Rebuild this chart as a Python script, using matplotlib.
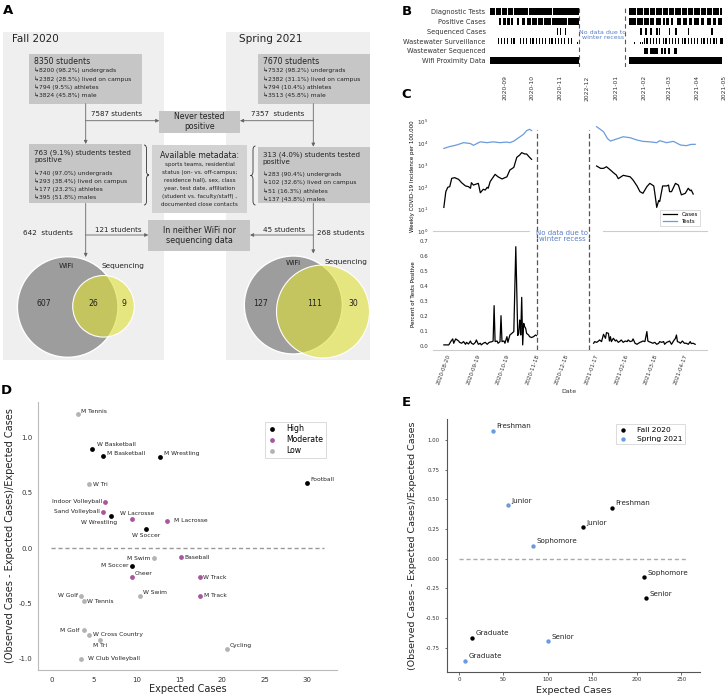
import numpy as np
import pandas as pd
import matplotlib
matplotlib.use('Agg')
import matplotlib.pyplot as plt
import matplotlib.dates as mdates
from matplotlib.patches import Rectangle, Circle, PathPatch
from matplotlib.path import Path

# ---------------- data ----------------
# panel A
fall_counts = ["8350 students", "↳8200 (98.2%) undergrads", "↳2382 (28.5%) lived on campus",
               "↳794 (9.5%) athletes", "↳3824 (45.8%) male"]
spring_counts = ["7670 students", "↳7532 (98.2%) undergrads", "↳2382 (31.1%) lived on campus",
                 "↳794 (10.4%) athletes", "↳3513 (45.8%) male"]
fall_pos = ["763 (9.1%) students tested\npositive", "↳740 (97.0%) undergrads",
            "↳293 (38.4%) lived on campus", "↳177 (23.2%) athletes", "↳395 (51.8%) males"]
spring_pos = ["313 (4.0%) students tested\npositive", "↳283 (90.4%) undergrads",
              "↳102 (32.6%) lived on campus", "↳51 (16.3%) athletes", "↳137 (43.8%) males"]
metadata_lines = ["sports teams, residential", "status (on- vs. off-campus;", "residence hall), sex, class",
                  "year, test date, affiliation", "(student vs. faculty/staff) ,", "documented close contacts"]
never_pos = [7587, 7357]
neither = [121, 45]
venn_total = [642, 268]
venn_fall = [607, 26, 9]      # wifi only, both, sequencing only
venn_spring = [127, 111, 30]

# panel B
b_rows = ["Diagnostic Tests", "Positive Cases", "Sequenced Cases", "Wastewater Surveillance",
          "Wastewater Sequenced", "Wifi Proximity Data"]
diag_tests = [("2020-08-15", "2020-08-20"), ("2020-08-22", "2020-08-27"), ("2020-08-29", "2020-09-02"),
              ("2020-09-04", "2020-09-09"), ("2020-09-11", "2020-09-25"), ("2020-09-27", "2020-10-22"),
              ("2020-10-24", "2020-11-21"),
              ("2021-01-16", "2021-01-23"), ("2021-01-25", "2021-01-30"), ("2021-02-01", "2021-02-06"),
              ("2021-02-08", "2021-02-13"), ("2021-02-15", "2021-02-20"), ("2021-02-22", "2021-02-27"),
              ("2021-03-01", "2021-03-06"), ("2021-03-08", "2021-03-13"), ("2021-03-15", "2021-03-20"),
              ("2021-03-22", "2021-03-27"), ("2021-03-29", "2021-04-03"), ("2021-04-05", "2021-04-10"),
              ("2021-04-12", "2021-04-17"), ("2021-04-19", "2021-04-24"), ("2021-04-26", "2021-04-28")]
pos_cases = [("2020-08-25", "2020-08-27"), ("2020-08-30", "2020-09-01"), ("2020-09-03", "2020-09-05"),
             ("2020-09-08", "2020-09-09"), ("2020-09-14", "2020-09-15"), ("2020-09-20", "2020-09-22"),
             ("2020-09-25", "2020-09-29"), ("2020-10-01", "2020-10-05"), ("2020-10-07", "2020-10-12"),
             ("2020-10-14", "2020-10-21"), ("2020-10-23", "2020-11-07"), ("2020-11-09", "2020-11-21"),
             ("2021-01-16", "2021-01-23"), ("2021-01-25", "2021-01-30"), ("2021-02-01", "2021-02-06"),
             ("2021-02-08", "2021-02-12"), ("2021-02-15", "2021-02-19"), ("2021-02-22", "2021-02-24"),
             ("2021-02-26", "2021-02-28"), ("2021-03-03", "2021-03-05"), ("2021-03-10", "2021-03-13"),
             ("2021-03-17", "2021-03-20"), ("2021-03-23", "2021-03-26"), ("2021-03-29", "2021-04-02"),
             ("2021-04-05", "2021-04-08"), ("2021-04-12", "2021-04-15"), ("2021-04-19", "2021-04-21"),
             ("2021-04-24", "2021-04-28")]
seq_cases = [("2020-10-28", "2020-10-28"), ("2020-11-01", "2020-11-01"), ("2020-11-06", "2020-11-06"),
             ("2021-01-28", "2021-01-29"), ("2021-02-01", "2021-02-01"), ("2021-02-03", "2021-02-04"),
             ("2021-02-08", "2021-02-09"), ("2021-02-12", "2021-02-12"), ("2021-02-15", "2021-02-16"),
             ("2021-02-18", "2021-02-18"), ("2021-02-22", "2021-02-22"), ("2021-03-01", "2021-03-01"),
             ("2021-03-08", "2021-03-09"), ("2021-03-22", "2021-03-22"), ("2021-04-17", "2021-04-18")]
ww_samples = ["2020-08-24", "2020-08-27", "2020-08-31", "2020-09-03", "2020-09-07", "2020-09-10",
              "2020-09-17", "2020-09-21", "2020-09-24", "2020-09-28", "2020-10-01", "2020-10-05",
              "2020-10-08", "2020-10-12", "2020-10-15", "2020-10-19", "2020-10-22", "2020-10-26",
              "2020-10-29", "2020-11-02", "2020-11-05", "2020-11-09", "2020-11-13",
              "2021-02-01", "2021-02-04", "2021-02-08", "2021-02-11", "2021-02-15", "2021-02-18",
              "2021-02-22", "2021-02-25", "2021-03-01", "2021-03-04", "2021-03-08", "2021-03-11",
              "2021-03-15", "2021-03-18", "2021-03-22", "2021-03-25", "2021-03-29", "2021-04-01",
              "2021-04-05", "2021-04-08", "2021-04-12", "2021-04-15", "2021-04-19", "2021-04-22",
              "2021-04-26", "2021-04-28"]
ww_partial = ["2020-11-19", "2021-01-21", "2021-01-28", "2021-01-30"]
ww_seq = [("2021-02-02", "2021-02-05"), ("2021-02-08", "2021-02-11"), ("2021-02-13", "2021-02-16"),
          ("2021-02-20", "2021-02-22"), ("2021-02-24", "2021-02-25"), ("2021-02-28", "2021-03-01"),
          ("2021-03-07", "2021-03-09")]
wifi_data = [("2020-08-15", "2020-11-21"), ("2021-01-16", "2021-04-28")]
b_ticks = ["2020-09-01", "2020-10-01", "2020-11-01", "2020-12-01", "2021-01-01", "2021-02-01",
           "2021-03-01", "2021-04-01", "2021-05-01"]
b_ticklabels = ["2020-09", "2020-10", "2020-11", "2022-12", "2021-01", "2021-02", "2021-03",
                "2021-04", "2021-05"]
b_recess = ["2020-11-22", "2021-01-12"]

# panel C (x = days since 2020-08-20)
tests_fall_day = [-8, -2, 5, 12, 19, 22, 29, 36, 42, 49, 56, 59, 63, 69, 73, 76, 79, 81]
tests_fall = [6000, 7300, 8600, 11000, 10000, 8300, 12000, 11000, 12000, 11000, 11700, 11000,
              13000, 20000, 27000, 39000, 45000, 39000]
tests_spr_day = [147, 154, 158, 161, 167, 174, 181, 188, 194, 201, 208, 211, 218, 225, 232, 238, 243, 247]
tests_spr = [59000, 35000, 17000, 13000, 16000, 20500, 18500, 14500, 12600, 12000, 11000, 13500,
             11000, 12600, 8600, 8000, 9200, 9200]
cases_fall_day = [-8, -6, -4, -2, 0, 3, 7, 10, 14, 17, 19, 20, 22, 25, 27, 29, 32, 34, 36, 37,
                  39, 44, 47, 51, 56, 59, 63, 66, 69, 71, 74, 76, 79, 81]
cases_fall = [12, 63, 100, 107, 257, 275, 230, 162, 115, 107, 90, 162, 126, 141, 151, 56, 81, 75,
              100, 90, 182, 390, 302, 240, 302, 617, 815, 2340, 3000, 3840, 3330, 3330, 2340, 1900]
cases_spr_day = [147, 151, 154, 157, 161, 164, 167, 169, 174, 181, 184, 188, 191, 194, 198, 201,
                 205, 206, 208, 210, 211, 214, 218, 220, 221, 223, 227, 230, 233, 237, 240, 242, 243, 245]
cases_spr = [940, 735, 735, 870, 617, 465, 364, 248, 352, 302, 214, 115, 63, 53, 107, 151, 115, 56,
             12, 25, 22, 115, 115, 126, 63, 63, 151, 126, 45, 53, 90, 70, 75, 49]
pct_fall_day = [-8, -3, -1, 1, 2, 4, 7, 8, 10, 12, 14, 15, 17, 19, 20, 22, 24, 25, 27, 29, 30, 32,
                34, 36, 38, 41, 42, 43, 44, 46, 47, 49, 50, 51, 53, 54, 56, 57, 59, 61, 63, 65, 67,
                68, 69, 69.5, 70, 71, 72, 73, 74, 75, 76, 78, 79, 81, 83, 85, 86]
pct_fall = [0.007, 0.007, 0.029, 0.047, 0.018, 0.047, 0.033, 0.024, 0.018, 0.029, 0.011, 0.024,
            0.013, 0.033, 0.018, 0.011, 0.024, 0.04, 0.011, 0.018, 0.007, 0.018, 0.024, 0.011,
            0.024, 0.029, 0.033, 0.269, 0.029, 0.033, 0.018, 0.029, 0.202, 0.029, 0.033, 0.018,
            0.062, 0.024, 0.073, 0.084, 0.096, 0.662, 0.07, 0.084, 0.173, 0.162, 0.073, 0.324,
            0.007, 0.151, 0.129, 0.118, 0.084, 0.073, 0.062, 0.056, 0.062, 0.073, 0.069]
pct_spr_day = [144, 145, 147, 149, 150, 152, 154, 156, 157, 159, 160, 161, 162, 164, 166, 167, 169,
               171, 172, 174, 176, 178, 179, 181, 183, 184, 186, 188, 189, 191, 193, 194, 196, 198,
               199, 200, 202, 204, 206, 208, 210, 211, 213, 215, 216, 218, 220, 221, 223, 225, 227,
               228, 229, 231, 232, 234, 236, 238, 240, 242, 243, 245, 247]
pct_spr = [0.018, 0.029, 0.024, 0.033, 0.04, 0.029, 0.078, 0.051, 0.089, 0.084, 0.033, 0.062,
           0.029, 0.051, 0.033, 0.04, 0.024, 0.033, 0.04, 0.024, 0.033, 0.029, 0.04, 0.029, 0.033,
           0.047, 0.018, 0.011, 0.016, 0.024, 0.029, 0.033, 0.029, 0.096, 0.033, 0.029, 0.024,
           0.018, 0.024, 0.011, 0.018, 0.029, 0.024, 0.029, 0.011, 0.024, 0.029, 0.033, 0.011,
           0.033, 0.051, 0.073, 0.029, 0.024, 0.018, 0.033, 0.018, 0.018, 0.011, 0.029, 0.016,
           0.018, 0.011]
c_ticks = [0, 30, 60, 90, 120, 150, 180, 210, 240]
c_ticklabels = ["2020-08-20", "2020-09-19", "2020-10-19", "2020-11-18", "2020-12-18",
                "2021-01-17", "2021-02-16", "2021-03-18", "2021-04-17"]
c_recess = [86.3, 139.5]

# panel D
d_teams = ["M Tennis", "W Basketball", "M Basketball", "M Wrestling", "Football", "W Tri",
           "Indoor Volleyball", "Sand Volleyball", "W Wrestling", "W Lacrosse", "M Lacrosse",
           "W Soccer", "M Swim", "Baseball", "M Soccer", "Cheer", "W Track", "W Swim", "M Track",
           "W Golf", "W Tennis", "M Golf", "W Cross Country", "M Tri", "Cycling", "W Club Volleyball"]
d_expected = [3.1, 4.8, 6.0, 12.7, 30.0, 4.4, 6.3, 6.0, 7.0, 9.5, 13.6, 11.1, 12.0, 15.2, 9.5, 9.5,
              17.4, 10.4, 17.4, 3.5, 3.8, 3.8, 4.4, 5.7, 20.6, 3.5]
d_ratio = [1.21, 0.90, 0.83, 0.82, 0.59, 0.58, 0.42, 0.33, 0.29, 0.26, 0.25, 0.17, -0.09, -0.08,
           -0.16, -0.26, -0.26, -0.43, -0.43, -0.43, -0.48, -0.74, -0.78, -0.83, -0.91, -1.0]
d_risk = ["Low", "High", "High", "High", "High", "Low", "Moderate", "Moderate", "High", "Moderate",
          "Moderate", "High", "Low", "Moderate", "High", "Moderate", "Moderate", "Low", "Moderate",
          "Low", "Low", "Low", "Low", "Low", "Low", "Low"]
risk_levels = ["High", "Moderate", "Low"]

# panel E
e_class = ["Freshman", "Sophomore", "Junior", "Senior", "Graduate"]
fall_expected = [172.3, 207.6, 139.6, 210.6, 14.6]
fall_ratio = [0.43, -0.154, 0.267, -0.334, -0.666]
spring_expected = [37.9, 83.7, 55.2, 100.6, 7.1]
spring_ratio = [1.079, 0.110, 0.452, -0.694, -0.860]

# ---------------- styling / layout ----------------
plt.rcParams['font.family'] = ['DejaVu Sans']
W, H = 727, 696
fig = plt.figure(figsize=(W / 100, H / 100), dpi=100)

risk_colors = {"High": "black", "Moderate": "#a9579c", "Low": "#b3b3b3"}
blue = "#6a9be0"
txtc = "#222222"


def px_axes(x0, y0, x1, y1, **kw):
    return fig.add_axes([x0 / W, 1 - y1 / H, (x1 - x0) / W, (y1 - y0) / H], **kw)


def dn(s):
    return mdates.date2num(pd.Timestamp(s))


# ---------------- panel B ----------------
axb = px_axes(487, 5, 725, 67)
for i, segs in enumerate([diag_tests, pos_cases, seq_cases, None, ww_seq, wifi_data]):
    if segs is None:
        continue
    axb.broken_barh([(dn(a), dn(b) - dn(a) + 1) for a, b in segs], (i - 0.33, 0.66),
                    color='black', lw=0)
axb.broken_barh([(dn(d), 1.4) for d in ww_samples], (3 - 0.33, 0.66), color='black', lw=0)
axb.broken_barh([(dn(d), 1.2) for d in ww_partial], (3 + 0.1, 0.23), color='black', lw=0)
for d in b_recess:
    axb.axvline(dn(d), color='#555', lw=0.8, ls=(0, (4, 3)))
axb.text(dn("2020-12-18"), 2.4, "No data due to\nwinter recess", fontsize=4.5, color='#5b7fc7',
         ha='center', va='center', linespacing=1.1)
axb.set_xlim(dn("2020-08-12"), dn("2021-05-02"))
axb.set_ylim(5.64, -0.68)
axb.set_yticks(range(len(b_rows)))
axb.set_yticklabels(b_rows, fontsize=4.8, color='#333')
axb.set_xticks([dn(t) for t in b_ticks])
axb.set_xticklabels(b_ticklabels, rotation=90, fontsize=4.3, color='#333')
axb.tick_params(axis='y', length=0, pad=1)
axb.tick_params(axis='x', length=0, pad=6)
for s in axb.spines.values():
    s.set_visible(False)

# ---------------- panel C ----------------
dash = (0, (4, 2.2))
axc1 = px_axes(433, 121.7, 707, 231)
axc1.plot(cases_fall_day, cases_fall, color='black', lw=0.9, label='Cases')
axc1.plot(cases_spr_day, cases_spr, color='black', lw=0.9)
axc1.plot(tests_fall_day, tests_fall, color=blue, lw=0.9, label='Tests')
axc1.plot(tests_spr_day, tests_spr, color=blue, lw=0.9)
axc1.set_yscale('log')
axc1.set_ylim(1, 1e5)
axc1.set_xlim(-19, 259)
axc1.set_yticks([1, 10, 100, 1e3, 1e4, 1e5])
axc1.yaxis.set_minor_locator(matplotlib.ticker.NullLocator())
axc1.set_xticks([])
axc1.tick_params(axis='y', labelsize=4, length=0, pad=3.5, labelcolor='#333')
for s in axc1.spines.values():
    s.set_visible(False)
axc1.axhline(1, xmin=0, xmax=0.35, color='#cccccc', lw=0.8, clip_on=False)
axc1.axhline(1, xmin=0.62, xmax=1, color='#cccccc', lw=0.8, clip_on=False)
for d in c_recess:
    axc1.axvline(d, ymin=-0.07, ymax=0.92, color='#555', lw=0.9, ls=dash, clip_on=False)
axc1.set_ylabel("Weekly COVID-19 Incidence per 100,000", fontsize=4)
axc1.yaxis.set_label_coords(-0.066, 0.5)
leg = axc1.legend(loc='lower right', bbox_to_anchor=(0.985, 0.02), fontsize=4, handlelength=2.6,
                  frameon=True, fancybox=False, borderpad=0.4, labelspacing=0.3)
leg.get_frame().set_edgecolor('#cccccc')
leg.get_frame().set_linewidth(0.6)

axc2 = px_axes(433, 238, 707, 350)
axc2.plot(pct_fall_day, pct_fall, color='black', lw=0.9)
axc2.plot(pct_spr_day, pct_spr, color='black', lw=0.9)
for d in c_recess:
    axc2.axvline(d, color='#555', lw=0.9, ls=dash)
axc2.set_xlim(-19, 259)
axc2.set_ylim(-0.027, 0.72)
axc2.set_yticks(np.arange(0, 0.71, 0.1))
axc2.yaxis.set_major_formatter(matplotlib.ticker.FormatStrFormatter('%.1f'))
axc2.set_xticks(c_ticks)
axc2.set_xticklabels(c_ticklabels, rotation=70, ha='right')
axc2.tick_params(axis='both', labelsize=4, length=0, labelcolor='#333')
axc2.tick_params(axis='y', pad=3.5)
axc2.tick_params(axis='x', pad=2.5)
for k in ['top', 'right', 'left']:
    axc2.spines[k].set_visible(False)
axc2.spines['bottom'].set_color('#cccccc')
axc2.spines['bottom'].set_linewidth(0.8)
axc2.set_ylabel("Percent of Tests Positive", fontsize=4)
axc2.yaxis.set_label_coords(-0.063, 0.5)
axc2.set_xlabel("Date", fontsize=4.5, color='#333')
axc2.xaxis.set_label_coords(0.496, -0.35)

# ---------------- panel D ----------------
axd = px_axes(38.3, 401.7, 337, 670)
d_offsets = {"M Tennis": (3.3, -3.3, 'left'), "W Basketball": (4.3, -3.7, 'left'),
             "M Basketball": (4, -3.3, 'left'), "M Wrestling": (4, -3.7, 'left'),
             "Football": (3.3, -3.7, 'left'), "W Tri": (3.7, 0, 'left'),
             "Indoor Volleyball": (-3.3, 0, 'right'), "Sand Volleyball": (-2.7, 0, 'right'),
             "W Wrestling": (-11.7, 6, 'center'), "W Lacrosse": (4.7, -6, 'center'),
             "M Lacrosse": (6.7, 0, 'left'), "W Soccer": (0, 5.7, 'center'),
             "M Swim": (-3.3, 0, 'right'), "Baseball": (3.7, 0, 'left'),
             "M Soccer": (-3.3, 0, 'right'), "Cheer": (2, -3.3, 'left'),
             "W Track": (3.3, 0, 'left'), "W Swim": (3, -3.7, 'left'), "M Track": (4, 0, 'left'),
             "W Golf": (-3.7, 0, 'right'), "W Tennis": (3.3, 0, 'left'),
             "M Golf": (-4.7, 0, 'right'), "W Cross Country": (4.3, 0, 'left'),
             "M Tri": (0, 5.3, 'center'), "Cycling": (2.3, -3.7, 'left'),
             "W Club Volleyball": (6.3, 0, 'left')}
axd.plot([0, 32], [0, 0], color='#999999', lw=1, ls=(0, (3, 2)))
for lvl in risk_levels:
    idx = [i for i, r in enumerate(d_risk) if r == lvl]
    axd.scatter([d_expected[i] for i in idx], [d_ratio[i] for i in idx], s=12,
                color=risk_colors[lvl], label=lvl, zorder=3, linewidths=0)
for name, x, y in zip(d_teams, d_expected, d_ratio):
    dx, dy, ha = d_offsets[name]
    axd.annotate(name, (x, y), xytext=(dx * 0.72, -dy * 0.72), textcoords='offset points',
                 fontsize=4.3, ha=ha, va='center', color=txtc)
axd.set_xlim(-1.54, 33.5)
axd.set_ylim(-1.10, 1.324)
axd.set_xticks([0, 5, 10, 15, 20, 25, 30])
axd.set_yticks([-1.0, -0.5, 0.0, 0.5, 1.0])
axd.yaxis.set_major_formatter(matplotlib.ticker.FormatStrFormatter('%.1f'))
axd.tick_params(labelsize=5, length=0, labelcolor='#333')
axd.tick_params(axis='y', pad=4)
axd.tick_params(axis='x', pad=5)
for k in ['top', 'right']:
    axd.spines[k].set_visible(False)
for k in ['left', 'bottom']:
    axd.spines[k].set_color('#bbbbbb')
    axd.spines[k].set_linewidth(0.8)
axd.set_xlabel("Expected Cases", fontsize=7, color=txtc)
axd.xaxis.set_label_coords(0.5, -0.052)
axd.set_ylabel("(Observed Cases - Expected Cases)/Expected Cases", fontsize=7, color=txtc)
axd.yaxis.set_label_coords(-0.078, 0.5)
leg = axd.legend(loc='upper right', bbox_to_anchor=(0.975, 0.94), fontsize=5.6, frameon=True,
                 fancybox=False, handletextpad=1.2, borderpad=0.35, labelspacing=0.25,
                 handlelength=1.2)
leg.get_frame().set_edgecolor('#cccccc')
leg.get_frame().set_linewidth(0.6)

# ---------------- panel E ----------------
axe = px_axes(447.3, 419.3, 700, 671.7)
axe.plot([0, 258], [0, 0], color='#aaaaaa', lw=1, ls=(0, (3, 2)))
axe.scatter(fall_expected, fall_ratio, s=10, color='black', label='Fall 2020', zorder=3, linewidths=0)
axe.scatter(spring_expected, spring_ratio, s=10, color=blue, label='Spring 2021', zorder=3, linewidths=0)
for xs, ys in [(fall_expected, fall_ratio), (spring_expected, spring_ratio)]:
    for name, x, y in zip(e_class, xs, ys):
        axe.annotate(name, (x, y), xytext=(3.5 * 0.72, 4.3 * 0.72), textcoords='offset points',
                     fontsize=5.1, ha='left', va='center', color=txtc)
axe.set_xlim(-13.1, 271)
axe.set_ylim(-0.952, 1.175)
axe.set_xticks([0, 50, 100, 150, 200, 250])
axe.set_yticks([-0.75, -0.5, -0.25, 0, 0.25, 0.5, 0.75, 1.0])
axe.yaxis.set_major_formatter(matplotlib.ticker.FormatStrFormatter('%.2f'))
axe.tick_params(labelsize=3.9, length=1.8, width=0.6, color='#555', labelcolor='#333')
axe.tick_params(axis='y', pad=3.5)
axe.tick_params(axis='x', pad=2.3)
for k in ['top', 'right']:
    axe.spines[k].set_visible(False)
for k in ['left', 'bottom']:
    axe.spines[k].set_color('#555555')
    axe.spines[k].set_linewidth(0.8)
axe.set_xlabel("Expected Cases", fontsize=6.8, color=txtc)
axe.xaxis.set_label_coords(0.501, -0.057)
axe.set_ylabel("(Observed Cases - Expected Cases)/Expected Cases", fontsize=6.8, color=txtc)
axe.yaxis.set_label_coords(-0.12, 0.5)
leg = axe.legend(loc='upper right', bbox_to_anchor=(0.955, 0.995), fontsize=5.4, frameon=True,
                 fancybox=False, handletextpad=1.2, borderpad=0.35, labelspacing=0.3,
                 handlelength=1.2)
leg.get_frame().set_edgecolor('#cccccc')
leg.get_frame().set_linewidth(0.6)

# ---------------- overlay (panel A + labels), pixel coordinates ----------------
ov = fig.add_axes([0, 0, 1, 1], zorder=10)
ov.set_xlim(0, W)
ov.set_ylim(H, 0)
ov.axis('off')


def rect(x0, y0, x1, y1, color):
    ov.add_patch(Rectangle((x0, y0), x1 - x0, y1 - y0, color=color, lw=0))


def txt(x, y, s, fs, **kw):
    kw.setdefault('color', txtc)
    ov.text(x, y, s, fontsize=fs, va='center', **kw)


def arrow(x0, y0, x1, y1):
    ov.annotate('', xy=(x1, y1), xytext=(x0, y0),
                arrowprops=dict(arrowstyle='-|>', color='#666666', lw=0.6, mutation_scale=5,
                                shrinkA=0, shrinkB=0))


def brace(x, y0, y1, w):
    ym = (y0 + y1) / 2
    r = 4
    verts = [(x, y0), (x + w / 2, y0), (x + w / 2, y0 + r), (x + w / 2, ym - r),
             (x + w / 2, ym), (x + w, ym), (x + w / 2, ym), (x + w / 2, ym + r),
             (x + w / 2, y1 - r), (x + w / 2, y1), (x, y1)]
    codes = [Path.MOVETO, Path.CURVE3, Path.CURVE3, Path.LINETO, Path.CURVE3, Path.CURVE3,
             Path.CURVE3, Path.CURVE3, Path.LINETO, Path.CURVE3, Path.CURVE3]
    ov.add_patch(PathPatch(Path(verts, codes), fill=False, lw=0.6, color='#333333'))


box_c = '#c6c6c6'
rect(3.3, 32, 164, 360, '#efefef')
rect(226, 32, 370, 360, '#efefef')
txt(12, 39, "Fall 2020", 7.5)
txt(239, 39, "Spring 2021", 7.5)

# top boxes
for x0, lines in [(29.3, fall_counts), (257.7, spring_counts)]:
    rect(x0, 54.3, x0 + 112.4, 103.7, box_c)
    txt(x0 + 5, 61.7, lines[0], 5.6)
    for k, ln in enumerate(lines[1:]):
        txt(x0 + 5, [70.7, 79, 87, 95][k], ln, 4.3)

rect(159.3, 111, 240, 132.7, box_c)
txt(199.7, 121.8, "Never tested\npositive", 5.6, ha='center', linespacing=1.15)
arrow(85.7, 103.7, 85.7, 144)
arrow(85.7, 120.7, 159.3, 120.7)
arrow(313.3, 103.7, 313.3, 146.7)
arrow(313.3, 120.7, 240, 120.7)
txt(90.7, 114.3, f"{never_pos[0]} students", 5.1)
txt(250.7, 114.3, f"{never_pos[1]}  students", 5.1)

# positive boxes
rect(29.3, 144, 141.7, 203.3, box_c)
txt(34.3, 156.2, fall_pos[0], 5.1, linespacing=1.2)
for k, ln in enumerate(fall_pos[1:]):
    txt(34.3, [173.3, 181.7, 189.3, 197.3][k], ln, 4.3)
rect(257.7, 146.7, 370, 203.3, box_c)
txt(262.7, 158.6, spring_pos[0], 5.1, linespacing=1.2)
for k, ln in enumerate(spring_pos[1:]):
    txt(262.7, [174.3, 182.7, 191, 199][k], ln, 4.3)

rect(152.3, 145, 246.7, 213.3, '#d2d2d2')
txt(199.5, 155, "Available metadata:", 5.7, ha='center')
for k, ln in enumerate(metadata_lines):
    txt(199.5, 164.7 + 8 * k, ln, 4.1, ha='center')
brace(144, 145, 205, 5)
brace(255.5, 146, 205, -5)

rect(148.3, 220, 250, 250.7, box_c)
txt(199.2, 235.3, "In neither WiFi nor\nsequencing data", 5.8, ha='center', linespacing=1.15)
arrow(85.7, 203.3, 85.7, 257)
arrow(85.7, 235, 148.3, 235)
arrow(313.3, 203.3, 313.3, 253.5)
arrow(313.3, 235, 250, 235)
txt(95, 230, f"{neither[0]} students", 5.1)
txt(23.3, 233.3, f"{venn_total[0]}  students", 5.2)
txt(263.3, 230, f"{neither[1]} students", 5.1)
txt(316.7, 232.7, f"{venn_total[1]} students", 5.2)

# venn diagrams
gray_c, yel_c = '#9d9d9d', '#e0e036'
for (gx, gy, gr), (yx, yy, yr) in [((67.7, 307, 50.3), (103.5, 306.3, 30.8)),
                                   ((293.3, 305, 49), (323, 311.5, 46.5))]:
    ov.add_patch(Circle((gx, gy), gr, facecolor=gray_c, edgecolor='white', lw=1))
    ov.add_patch(Circle((yx, yy), yr, facecolor=yel_c, alpha=0.6, edgecolor='none'))
    ov.add_patch(Circle((yx, yy), yr, facecolor='none', edgecolor='white', lw=0.8))
txt(66.7, 266, "WiFi", 5.3, ha='center')
txt(123.3, 266, "Sequencing", 5.3, ha='center')
for x, v in zip([43.7, 93.3, 124], venn_fall):
    txt(x, 303.3, str(v), 5.6, ha='center')
txt(293.8, 263.3, "WiFi", 5.3, ha='center')
txt(346.3, 261.7, "Sequencing", 5.3, ha='center')
for x, v in zip([260, 315, 353.3], venn_spring):
    txt(x, 303.3, str(v), 5.6, ha='center')

# C recess annotation
txt(562, 236, "No data due to\nwinter recess", 5, ha='center', color='#5b7fc7', linespacing=1.05)

# panel letters
for x, y, s in [(3.3, 11, "A"), (401.7, 11.5, "B"), (401.7, 94, "C"), (0.5, 390, "D"), (401.7, 402, "E")]:
    txt(x, y, s, 9.5, fontweight='bold', color='black')

fig.savefig("out.png", dpi=100)
